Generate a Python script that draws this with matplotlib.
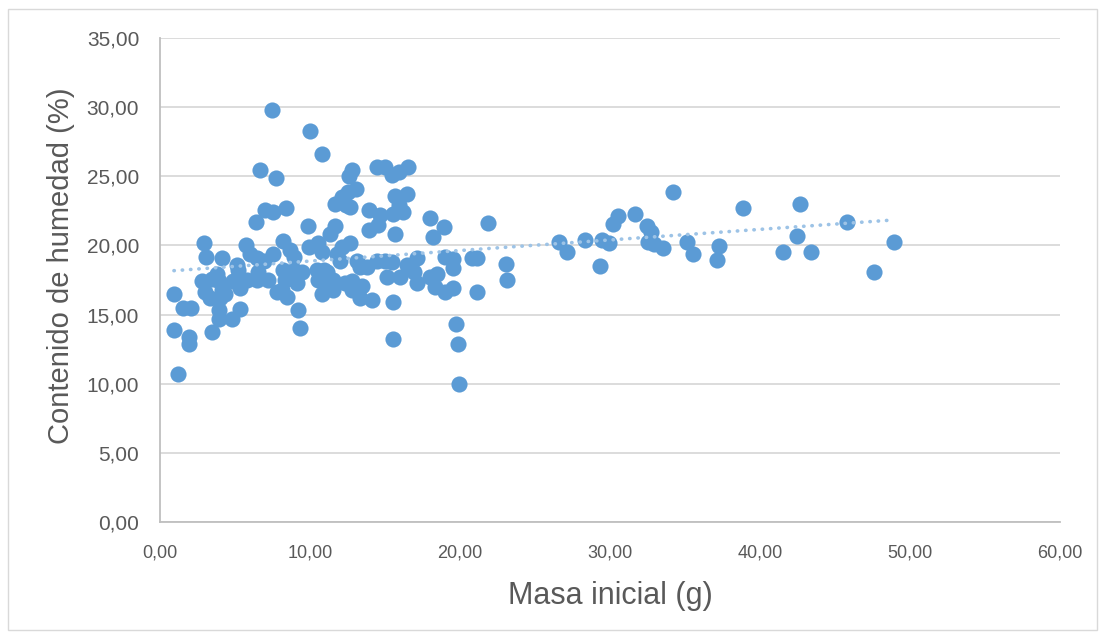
import numpy as np
import matplotlib.pyplot as plt
from matplotlib.patches import Rectangle

plt.rcParams['font.family'] = ['Liberation Sans', 'DejaVu Sans']

# Masa inicial (g)
masa = [0.93, 0.93, 1.2, 1.5, 2.05, 1.9, 1.9, 2.9, 3.05, 2.8, 3.0, 3.3, 3.45, 3.45, 3.8, 3.9,
        3.9, 3.9, 4.0, 4.1, 4.1, 4.3, 4.8, 4.85, 5.15, 5.2, 5.33, 5.33, 5.7, 5.8, 6.0, 6.4,
        6.45, 6.45, 6.55, 6.67, 6.9, 7.0, 7.2, 7.45, 7.5, 7.55, 7.7, 7.8, 8.1, 8.2, 8.2, 8.33,
        8.4, 8.45, 8.67, 8.67, 8.9, 8.9, 9.1, 9.2, 9.33, 9.45, 9.85, 9.9, 10.0, 10.45, 10.55,
        10.55, 10.67, 10.8, 10.8, 10.8, 10.9, 10.9, 11.1, 11.3, 11.3, 11.55, 11.55, 11.67,
        11.67, 11.8, 12.0, 12.1, 12.1, 12.33, 12.4, 12.55, 12.6, 12.67, 12.67, 12.8, 12.8,
        12.8, 13.07, 13.1, 13.3, 13.33, 13.45, 13.8, 13.9, 13.9, 14.1, 14.45, 14.45, 14.55,
        14.67, 15.0, 15.0, 15.1, 15.45, 15.45, 15.55, 15.55, 15.55, 15.67, 15.67, 15.9, 15.9,
        16.0, 16.2, 16.45, 16.45, 16.5, 16.9, 17.1, 17.1, 18.0, 18.0, 18.2, 18.33, 18.45,
        18.9, 19.0, 19.0, 19.55, 19.55, 19.55, 19.7, 19.85, 19.95, 20.8, 21.1, 21.1, 21.85,
        23.05, 23.15, 26.6, 27.15, 28.33, 29.3, 29.45, 29.9, 30.2, 30.5, 31.67, 32.45, 32.73,
        32.55, 32.9, 33.5, 34.2, 35.1, 35.55, 37.1, 37.27, 38.85, 41.5, 42.45, 42.67, 43.4,
        45.8, 47.6, 48.95]

# Contenido de humedad (%)
humedad = [16.5, 13.9, 10.7, 15.45, 15.45, 13.4, 12.9, 20.2, 19.2, 17.4, 16.65, 16.2, 13.75,
           17.6, 17.9, 17.4, 15.3, 14.7, 16.2, 16.8, 19.1, 16.5, 14.7, 17.4, 18.6, 18.2, 16.9,
           15.4, 20.0, 17.5, 19.4, 21.7, 19.1, 17.5, 18.1, 25.45, 18.9, 22.6, 17.5, 29.8, 22.4,
           19.4, 24.9, 16.65, 16.8, 20.3, 18.2, 17.5, 22.7, 16.3, 19.7, 17.7, 19.2, 18.2, 17.3,
           15.3, 14.05, 18.1, 21.4, 19.9, 28.3, 18.2, 20.15, 17.5, 17.7, 26.6, 19.55, 16.5,
           18.2, 17.4, 18.1, 20.8, 17.5, 17.5, 16.8, 23.0, 21.4, 19.4, 18.9, 23.5, 19.9, 17.3,
           22.9, 23.9, 25.0, 22.8, 20.15, 25.45, 17.4, 16.8, 24.05, 18.9, 18.45, 16.2, 17.1,
           18.45, 22.6, 21.1, 16.05, 25.7, 18.9, 21.5, 22.2, 25.7, 18.9, 17.7, 25.1, 18.8, 22.3,
           15.9, 13.2, 23.6, 20.8, 25.3, 22.9, 17.7, 22.4, 23.7, 18.6, 25.7, 18.1, 19.1, 17.3,
           22.0, 17.7, 20.6, 17.0, 17.9, 21.3, 19.2, 16.65, 19.0, 18.35, 16.95, 14.35, 12.9,
           10.0, 19.1, 19.1, 16.65, 21.6, 18.65, 17.5, 20.25, 19.5, 20.4, 18.5, 20.4, 20.2,
           21.55, 22.1, 22.3, 21.4, 21.0, 20.25, 20.1, 19.85, 23.9, 20.25, 19.4, 18.95, 19.95,
           22.7, 19.5, 20.7, 23.0, 19.5, 21.7, 18.1, 20.25]

fig = plt.figure(figsize=(11.05, 6.37), dpi=100)
ax = fig.add_axes([0.1448, 0.1805, 0.8145, 0.7598])

ax.scatter(masa, humedad, s=135, color='#5B9BD5', zorder=3, linewidths=0)

# linea de tendencia lineal
m, b = np.polyfit(masa, humedad, 1)
xt = np.array([min(masa), max(masa)])
ax.plot(xt, m * xt + b, color='#9DC3E6', lw=2.6, linestyle=(0, (0.1, 2.2)),
        dash_capstyle='round', zorder=4)

ax.set_xlim(0, 60)
ax.set_ylim(0, 35)
ax.set_xticks(np.arange(0, 61, 10))
ax.set_yticks(np.arange(0, 36, 5))
ax.set_xticklabels(['%d,00' % v for v in range(0, 61, 10)])
ax.set_yticklabels(['%d,00' % v for v in range(0, 36, 5)])
ax.tick_params(length=0, colors='#595959')
ax.tick_params(axis='x', pad=16, labelsize=13)
ax.tick_params(axis='y', pad=15, labelsize=15)
ax.grid(axis='y', color='#D9D9D9', lw=1.3)
ax.set_axisbelow(True)
for s in ['top', 'right']:
    ax.spines[s].set_visible(False)
for s in ['left', 'bottom']:
    ax.spines[s].set_color('#BFBFBF')
    ax.spines[s].set_linewidth(1.3)

ax.set_xlabel('Masa inicial (g)', fontsize=22, color='#595959', labelpad=14)
ax.set_ylabel('Contenido de humedad (%)', fontsize=21, color='#595959')
ax.yaxis.set_label_coords(-0.094, 0.53)

fig.patches.append(Rectangle((0.007, 0.011), 0.986, 0.975, transform=fig.transFigure,
                             fill=False, edgecolor='#D9D9D9', lw=1))

fig.savefig('out.png', dpi=100)
